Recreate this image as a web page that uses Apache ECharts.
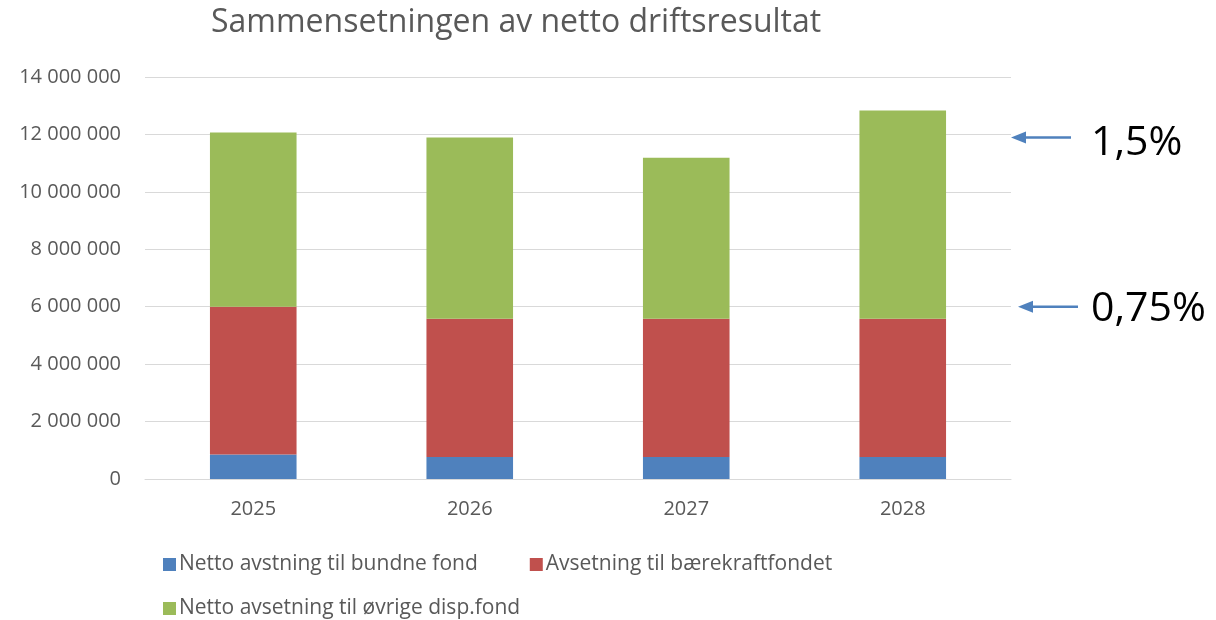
<!DOCTYPE html>
<html>
<head>
<meta charset="utf-8">
<script src="https://cdn.jsdelivr.net/npm/echarts@6/dist/echarts.min.js"></script>
<style>
  html, body { margin: 0; padding: 0; background: #fff; }
  #chart { width: 1216px; height: 620px; }
</style>
</head>
<body>
<div id="chart"></div>
<script>
var years = ['2025', '2026', '2027', '2028'];
var bundneFond = [850000, 770000, 770000, 770000];
var baerekraft = [5150000, 4810000, 4810000, 4810000];
var ovrigeFond = [6070000, 6310000, 5610000, 7250000];
var seriesNames = ['Netto avstning til bundne fond', 'Avsetning til bærekraftfondet', 'Netto avsetning til øvrige disp.fond'];
var markers = [[12000000, '1,5%'], [6000000, '0,75%']];

var textColor = '#595959';
var fontFam = '"Open Sans", "Noto Sans", sans-serif';

var myChart = echarts.init(document.getElementById('chart'));

function spaced(v) {
    return String(v).replace(/\B(?=(\d{3})+(?!\d))/g, ' ');
}

var option = {
    backgroundColor: '#ffffff',
    animation: false,
    textStyle: { fontFamily: fontFam },
    title: {
        text: 'Sammensetningen av netto driftsresultat',
        left: 206,
        top: 2,
        textStyle: { color: textColor, fontSize: 32, fontWeight: 'normal', fontFamily: fontFam }
    },
    legend: [{
        data: [seriesNames[0], seriesNames[1]],
        left: 158,
        top: 549,
        itemWidth: 13,
        itemHeight: 13,
        itemGap: 52,
        icon: 'rect',
        textStyle: { color: textColor, fontSize: 21, fontFamily: fontFam, padding: [0, 0, 0, -2] }
    }, {
        data: [seriesNames[2]],
        left: 158,
        top: 593,
        itemWidth: 13,
        itemHeight: 13,
        icon: 'rect',
        textStyle: { color: textColor, fontSize: 21, fontFamily: fontFam, padding: [0, 0, 0, -2] }
    }],
    grid: { left: 145, right: 205, top: 77, bottom: 141, containLabel: false },
    xAxis: {
        type: 'category',
        data: years,
        axisLine: { lineStyle: { color: '#d9d9d9', width: 1 } },
        axisTick: { show: false },
        axisLabel: { color: textColor, fontSize: 20, margin: 20, fontFamily: fontFam }
    },
    yAxis: {
        type: 'value',
        min: 0,
        max: 14000000,
        interval: 2000000,
        axisLine: { show: false },
        axisTick: { show: false },
        splitLine: { lineStyle: { color: '#d9d9d9', width: 1 } },
        axisLabel: { color: textColor, fontSize: 20, margin: 24, fontFamily: fontFam, formatter: spaced }
    },
    series: [{
        name: seriesNames[0],
        type: 'bar',
        stack: 'total',
        barWidth: '40%',
        itemStyle: { color: '#4F81BD' },
        data: bundneFond
    }, {
        name: seriesNames[1],
        type: 'bar',
        stack: 'total',
        itemStyle: { color: '#C0504D' },
        data: baerekraft
    }, {
        name: seriesNames[2],
        type: 'bar',
        stack: 'total',
        itemStyle: { color: '#9BBB59' },
        data: ovrigeFond
    }]
};

myChart.setOption(option);

// arrows + percentage labels pointing at the gridlines
var elements = [];
markers.forEach(function (m, i) {
    var y = myChart.convertToPixel({ yAxisIndex: 0 }, m[0]) + (i === 0 ? 3 : 0);
    var head = i === 0 ? 1011 : 1018;
    var tail = head + 60;
    elements.push({
        type: 'line',
        shape: { x1: head + 12, y1: y, x2: tail, y2: y },
        style: { stroke: '#4F81BD', lineWidth: 2.5 }
    });
    elements.push({
        type: 'polygon',
        shape: { points: [[head, y], [head + 15, y - 6], [head + 15, y + 6]] },
        style: { fill: '#4F81BD' }
    });
    elements.push({
        type: 'text',
        x: 1091,
        y: y + (i === 0 ? 6 : 3),
        style: {
            text: m[1],
            fill: '#000000',
            font: '41px ' + fontFam,
            textVerticalAlign: 'middle',
            verticalAlign: 'middle'
        }
    });
});
myChart.setOption({ graphic: elements });

window.onresize = function () {
    myChart.resize();
};
</script>
</body>
</html>
